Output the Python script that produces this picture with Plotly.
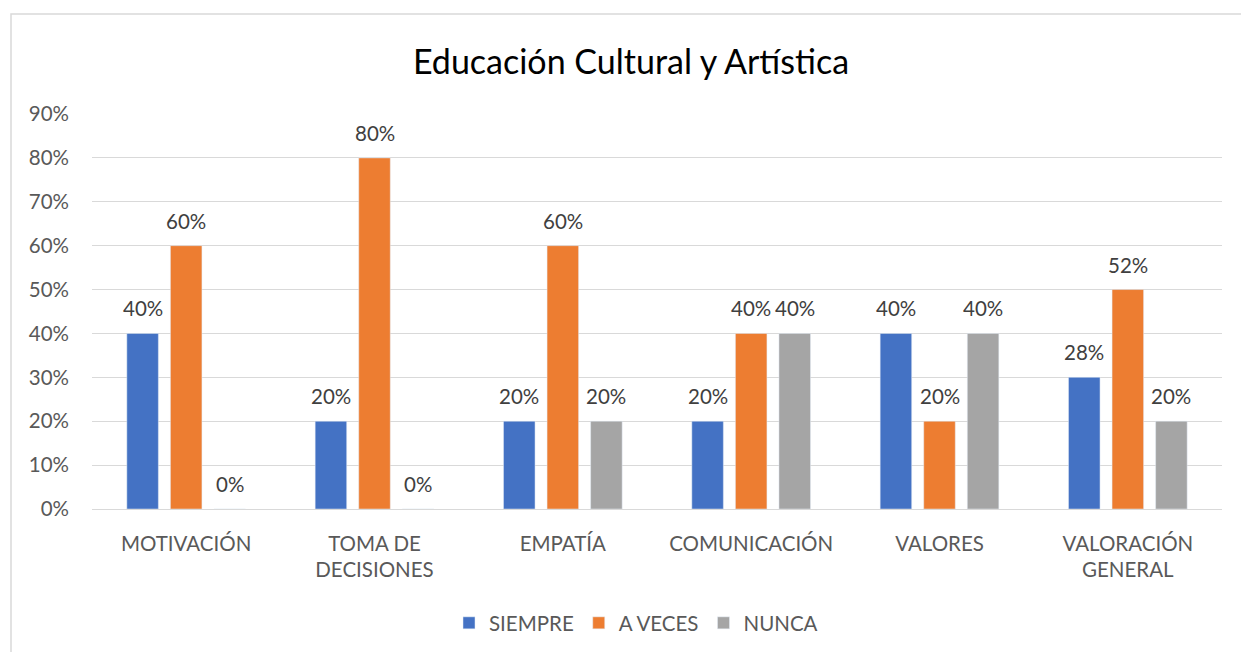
import plotly.graph_objects as go

categories = ["MOTIVACIÓN", "TOMA DE<br>DECISIONES", "EMPATÍA", "COMUNICACIÓN", "VALORES", "VALORACIÓN<br>GENERAL"]
siempre = [0.40, 0.20, 0.20, 0.20, 0.40, 0.30]
a_veces = [0.60, 0.80, 0.60, 0.40, 0.20, 0.50]
nunca = [0.00, 0.00, 0.20, 0.40, 0.40, 0.20]
siempre_labels = ["40%", "20%", "20%", "20%", "40%", "28%"]
a_veces_labels = ["60%", "80%", "60%", "40%", "20%", "52%"]
nunca_labels = ["0%", "0%", "20%", "40%", "40%", "20%"]
y_ticks = [0, 0.1, 0.2, 0.3, 0.4, 0.5, 0.6, 0.7, 0.8, 0.9]

FONT = "Lato"
W, H = 1241, 652
ML, MR, MT, MB = 92, 19, 114, 143
BARGAP, BARGROUPGAP = 0.306, 0.276

series = [
    ("SIEMPRE", siempre, siempre_labels, "#4472C4"),
    ("A VECES", a_veces, a_veces_labels, "#ED7D31"),
    ("NUNCA", nunca, nunca_labels, "#A5A5A5"),
]

fig = go.Figure()
annotations = []
cat_w = (W - ML - MR) / len(categories)
slot = cat_w * (1 - BARGAP) / len(series)
for i, (name, vals, labels, color) in enumerate(series):
    fig.add_trace(go.Bar(
        x=categories, y=vals, name=name, marker_color=color,
    ))
    for cat, v, lab in zip(categories, vals, labels):
        annotations.append(dict(
            x=cat, y=v, xref="x", yref="y", text=lab, showarrow=False,
            xshift=(i - (len(series) - 1) / 2) * slot, yshift=25,
            xanchor="center", yanchor="middle",
            font=dict(family=FONT, size=20.5, color="#404040"),
        ))

fig.update_layout(
    width=W, height=H,
    margin=dict(l=ML, r=MR, t=MT, b=MB),
    paper_bgcolor="white", plot_bgcolor="white",
    barmode="group", bargap=BARGAP, bargroupgap=BARGROUPGAP,
    title=dict(text="Educación Cultural y Artística", x=631 / W, xanchor="center",
               y=1 - 62 / H, yanchor="middle",
               font=dict(family=FONT, size=34, color="#000000")),
    xaxis=dict(showgrid=False, showline=False, ticks="",
               tickfont=dict(family=FONT, size=20.5, color="#595959"),
               ticklabelstandoff=20),
    yaxis=dict(range=[0, 0.9], tickvals=y_ticks, tickformat=".0%",
               showgrid=True, gridcolor="#D9D9D9", gridwidth=1.3,
               zeroline=True, zerolinecolor="#D9D9D9", zerolinewidth=1.3,
               tickfont=dict(family=FONT, size=20.5, color="#595959"),
               ticklabelstandoff=22),
    legend=dict(orientation="h", x=636 / W, xref="container", xanchor="center",
                y=1 - 623 / H, yref="container", yanchor="middle",
                font=dict(family=FONT, size=20.5, color="#595959"),
                itemwidth=30, traceorder="normal"),
    annotations=annotations,
    shapes=[dict(type="rect", xref="paper", yref="paper",
                 x0=(11 - ML) / (W - ML - MR), x1=1.1,
                 y0=-0.5, y1=(H - MB - 14) / (H - MT - MB),
                 line=dict(color="#D9D9D9", width=1.5), fillcolor="rgba(0,0,0,0)",
                 layer="below")],
)

fig.write_html("out.html", config={"displayModeBar": False})

with open("out.html", "r", encoding="utf-8") as f:
    html = f.read()
html = html.replace("<body>", '<body style="margin:0;padding:0;overflow:hidden">', 1)
with open("out.html", "w", encoding="utf-8") as f:
    f.write(html)
